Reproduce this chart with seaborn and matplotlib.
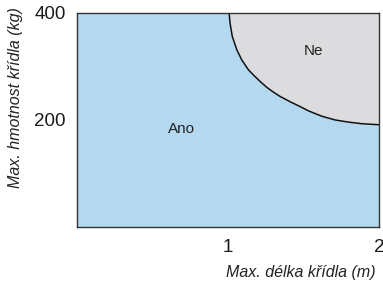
import numpy as np
import pandas as pd
import matplotlib
matplotlib.use("Agg")
import matplotlib.pyplot as plt
import seaborn as sns

# Boundary between "Ano" and "Ne"
wing_length = [1.007, 1.013, 1.028, 1.058, 1.091, 1.134, 1.168, 1.212, 1.256, 1.300,
               1.344, 1.411, 1.477, 1.532, 1.620, 1.708, 1.797, 1.885, 2.000]
wing_mass = [400, 381, 356, 331, 312, 294, 284, 272, 261, 252,
             244, 234, 225, 217, 207, 200, 196, 193, 191]

x_ticks = [1, 2]
y_ticks = [200, 400]
region_labels = ["Ano", "Ne"]
label_pos = [(0.69, 184), (1.565, 328)]

sns.set_style("white")
plt.rcParams['font.family'] = ['Liberation Sans', 'DejaVu Sans']

df = pd.DataFrame({'length': wing_length, 'mass': wing_mass})

fig = plt.figure(figsize=(3.83, 2.88), dpi=100)
ax = fig.add_axes([0.201, 0.212, 0.789, 0.743])

# fill regions: blue below the boundary, grey above
bx = np.array([0.0] + wing_length)
by = np.array([400] + wing_mass)
ax.fill_between(bx, 0, by, color='#b5d8f1', linewidth=0)
ax.fill_between(df['length'], df['mass'], 400, color='#dcdcde', linewidth=0)

sns.lineplot(data=df, x='length', y='mass', color='#111111', linewidth=1.1, ax=ax, sort=False)

for lab, (lx, ly) in zip(region_labels, label_pos):
    ax.text(lx, ly, lab, ha='center', va='center', fontsize=11, color='#222222')

ax.set_xlim(0, 2)
ax.set_ylim(0, 400)
ax.set_xticks(x_ticks)
ax.set_xticklabels([str(t) for t in x_ticks])
ax.set_yticks(y_ticks)
ax.set_yticklabels([str(t) for t in y_ticks])
ax.tick_params(axis='both', length=0, labelsize=13.5, colors='#1a1a1a')
ax.tick_params(axis='x', pad=9)
ax.tick_params(axis='y', pad=8)

for s in ax.spines.values():
    s.set_visible(True)
    s.set_color('#333333')
    s.set_linewidth(1.0)

ax.set_xlabel('Max. délka křídla (m)', fontsize=11.5, style='italic', ha='right', va='center', color='#222222')
ax.xaxis.set_label_coords(0.987, -0.215)
ax.set_ylabel('Max. hmotnost křídla (kg)', fontsize=11.5, style='italic', ha='center', va='center', color='#222222')
ax.yaxis.set_label_coords(-0.205, 0.603)

fig.savefig('out.png', dpi=100)
